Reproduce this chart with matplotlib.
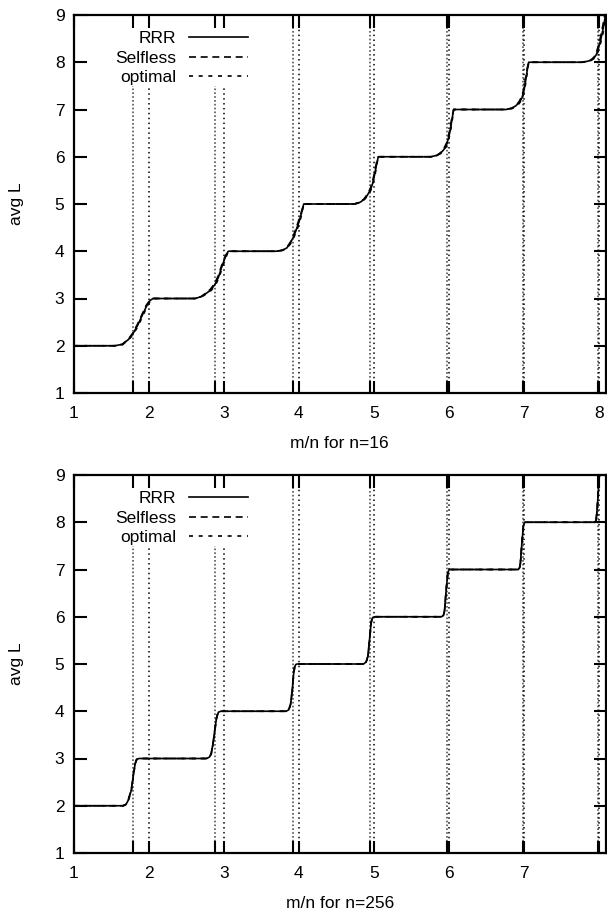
import matplotlib
matplotlib.use("Agg")
import matplotlib.pyplot as plt
from matplotlib.patches import Rectangle
from matplotlib.lines import Line2D

plt.rcParams['font.family'] = ['Liberation Sans', 'DejaVu Sans']

# ---------------- data ----------------
thresholds = [1.792, 2.880, 3.922, 4.952, 5.973, 6.981, 7.979]
integer_lines = [2, 3, 4, 5, 6, 7, 8]
yticks = [1, 2, 3, 4, 5, 6, 7, 8, 9]
xticks_top = [1, 2, 3, 4, 5, 6, 7, 8]
xticks_bottom = [1, 2, 3, 4, 5, 6, 7]
series_names = ["RRR", "Selfless", "optimal"]

# n = 16
x16 = [1.00, 1.55, 1.65, 1.73, 1.79, 1.85, 1.92, 1.97, 2.02, 2.06,
       2.62, 2.70, 2.75, 2.82, 2.88, 2.93, 2.97, 3.02, 3.06,
       3.70, 3.78, 3.84, 3.89, 3.93, 3.96, 4.00, 4.035, 4.065,
       4.74, 4.82, 4.87, 4.91, 4.95, 4.98, 5.01, 5.035, 5.058,
       5.76, 5.84, 5.89, 5.93, 5.97, 6.00, 6.02, 6.04, 6.062,
       6.76, 6.84, 6.89, 6.93, 6.97, 7.00, 7.02, 7.04, 7.06,
       7.77, 7.84, 7.89, 7.93, 7.96, 7.99, 8.02, 8.05, 8.09]
rrr16 = [2.00, 2.00, 2.03, 2.13, 2.25, 2.42, 2.66, 2.83, 2.96, 3.00,
         3.00, 3.04, 3.09, 3.17, 3.29, 3.45, 3.65, 3.87, 4.00,
         4.00, 4.02, 4.07, 4.18, 4.31, 4.43, 4.61, 4.80, 5.00,
         5.00, 5.04, 5.10, 5.18, 5.29, 5.42, 5.63, 5.84, 6.00,
         6.00, 6.03, 6.08, 6.15, 6.27, 6.44, 6.60, 6.80, 7.00,
         7.00, 7.03, 7.08, 7.14, 7.24, 7.42, 7.62, 7.82, 8.00,
         8.00, 8.02, 8.04, 8.09, 8.16, 8.30, 8.48, 8.70, 9.05]
self16 = [2.00, 2.00, 2.03, 2.14, 2.27, 2.45, 2.69, 2.86, 2.97, 3.00,
          3.00, 3.04, 3.10, 3.19, 3.32, 3.49, 3.69, 3.90, 4.00,
          4.00, 4.02, 4.08, 4.20, 4.34, 4.47, 4.66, 4.84, 5.00,
          5.00, 5.04, 5.11, 5.20, 5.32, 5.47, 5.68, 5.88, 6.00,
          6.00, 6.03, 6.09, 6.17, 6.30, 6.49, 6.66, 6.85, 7.00,
          7.00, 7.03, 7.09, 7.16, 7.28, 7.47, 7.68, 7.87, 8.00,
          8.00, 8.02, 8.05, 8.11, 8.20, 8.36, 8.56, 8.80, 9.15]
opt16 = [2.00, 2.00, 2.02, 2.12, 2.23, 2.39, 2.62, 2.80, 2.94, 3.00,
         3.00, 3.03, 3.08, 3.15, 3.26, 3.41, 3.60, 3.83, 4.00,
         4.00, 4.02, 4.06, 4.16, 4.28, 4.39, 4.56, 4.76, 5.00,
         5.00, 5.03, 5.09, 5.16, 5.26, 5.38, 5.58, 5.80, 6.00,
         6.00, 6.03, 6.07, 6.13, 6.24, 6.40, 6.55, 6.75, 7.00,
         7.00, 7.02, 7.07, 7.12, 7.21, 7.37, 7.56, 7.77, 8.00,
         8.00, 8.02, 8.04, 8.08, 8.13, 8.25, 8.42, 8.62, 8.95]

# n = 256
x256 = [1.00, 1.66, 1.70, 1.73, 1.77, 1.80, 1.82, 1.84, 1.87,
        2.77, 2.81, 2.835, 2.865, 2.893, 2.91, 2.93, 2.96,
        3.83, 3.865, 3.89, 3.913, 3.931, 3.945, 3.96, 3.98,
        4.86, 4.895, 4.92, 4.943, 4.963, 4.978, 4.99, 5.01,
        5.90, 5.925, 5.94, 5.96, 5.983, 5.995, 6.005, 6.02,
        6.92, 6.94, 6.95, 6.971, 6.99, 7.00, 7.01, 7.02,
        7.945, 7.955, 7.965, 7.975, 7.985, 7.995, 8.005, 8.09]
rrr256 = [2.00, 2.00, 2.03, 2.12, 2.33, 2.68, 2.88, 2.98, 3.00,
          3.00, 3.03, 3.11, 3.39, 3.74, 3.90, 3.98, 4.00,
          4.00, 4.03, 4.14, 4.45, 4.80, 4.94, 4.99, 5.00,
          5.00, 5.04, 5.16, 5.54, 5.88, 5.97, 5.99, 6.00,
          6.00, 6.03, 6.12, 6.53, 6.92, 6.98, 7.00, 7.00,
          7.00, 7.04, 7.13, 7.59, 7.92, 7.98, 8.00, 8.00,
          8.00, 8.03, 8.15, 8.35, 8.60, 8.85, 9.05, 9.60]
self256 = [2.00, 2.00, 2.03, 2.13, 2.35, 2.70, 2.89, 2.98, 3.00,
           3.00, 3.03, 3.12, 3.41, 3.76, 3.91, 3.98, 4.00,
           4.00, 4.03, 4.15, 4.47, 4.82, 4.95, 4.99, 5.00,
           5.00, 5.04, 5.17, 5.56, 5.89, 5.97, 5.99, 6.00,
           6.00, 6.03, 6.13, 6.55, 6.93, 6.98, 7.00, 7.00,
           7.00, 7.04, 7.14, 7.61, 7.93, 7.98, 8.00, 8.00,
           8.00, 8.03, 8.16, 8.37, 8.62, 8.87, 9.06, 9.60]
opt256 = [2.00, 2.00, 2.02, 2.11, 2.31, 2.66, 2.87, 2.97, 3.00,
          3.00, 3.02, 3.10, 3.37, 3.72, 3.89, 3.97, 4.00,
          4.00, 4.03, 4.13, 4.43, 4.78, 4.93, 4.99, 5.00,
          5.00, 5.04, 5.15, 5.52, 5.87, 5.96, 5.99, 6.00,
          6.00, 6.03, 6.11, 6.51, 6.91, 6.97, 7.00, 7.00,
          7.00, 7.04, 7.12, 7.57, 7.91, 7.97, 8.00, 8.00,
          8.00, 8.03, 8.14, 8.33, 8.58, 8.83, 9.04, 9.60]

# ---------------- styles ----------------
W, H = 607, 911
fig = plt.figure(figsize=(W / 100, H / 100), dpi=100)

left_px, right_px = 73.5, 606.0
unit_px = 75.11
xmax = 1 + (right_px - left_px) / unit_px
FS = 12.5

styles = {
    "RRR": dict(color="black", lw=1.2, linestyle="-"),
    "Selfless": dict(color="black", lw=1.2, linestyle=(0, (4.2, 2.8))),
    "optimal": dict(color="black", lw=1.2, linestyle=(0, (2.4, 3.4))),
}


def make_panel(top_px, xs, ys_list, xticks, xlabel):
    bottom_px = top_px + 378
    ax = fig.add_axes([left_px / W, 1 - bottom_px / H,
                       (right_px - left_px) / W, (bottom_px - top_px) / H])
    ax.set_xlim(1, xmax)
    ax.set_ylim(1, 9)

    for t in thresholds:
        ax.axvline(t, color="#555555", lw=1.2, linestyle=(0, (1, 1.3)), zorder=1)
    for t in integer_lines:
        ax.axvline(t, color="black", lw=1.1, linestyle=(0, (1, 2.2)), zorder=1)

    for name, ys in zip(series_names, ys_list):
        ax.plot(xs, ys, zorder=2, **styles[name])

    ax.set_xticks(xticks)
    ax.set_xticklabels([str(v) for v in xticks])
    ax.set_xticks(thresholds + integer_lines, minor=True)
    ax.set_yticks(yticks)
    ax.set_yticklabels([str(v) for v in yticks])
    ax.tick_params(axis="both", which="both", direction="in", width=1.5,
                   length=9, labelsize=FS, top=True, right=True)
    ax.tick_params(axis="x", which="both", length=9, pad=9)
    ax.tick_params(axis="y", which="major", pad=6.5)
    ax.tick_params(axis="y", which="minor", left=False, right=False)
    for sp in ax.spines.values():
        sp.set_linewidth(1.6)

    ax.set_xlabel(xlabel, fontsize=FS, va="center")
    ax.xaxis.set_label_coords(0.5, -51 / 378)
    ax.set_ylabel("avg L", fontsize=FS, va="center")
    ax.yaxis.set_label_coords((17 - left_px) / (right_px - left_px), 0.5)

    # opaque key box
    span = right_px - left_px
    bx0 = (100 - left_px) / span
    bx1 = (252 - left_px) / span
    by0 = 1 - (86 - 15) / 378
    by1 = 1 - (27 - 15) / 378
    ax.add_patch(Rectangle((bx0, by0), bx1 - bx0, by1 - by0, transform=ax.transAxes,
                           facecolor="white", edgecolor="none", zorder=1.5))
    rows = [36.7, 56.7, 76.0]
    tx = (176 - left_px) / span
    lx0 = (189 - left_px) / span
    lx1 = (248 - left_px) / span
    for name, r in zip(series_names, rows):
        ly = 1 - (r - 15) / 378
        bl = 1 - (r + 6.3 - 15) / 378
        ax.text(tx, bl, name, transform=ax.transAxes, ha="right", va="baseline",
                fontsize=FS, zorder=3)
        ax.add_line(Line2D([lx0, lx1], [ly, ly], transform=ax.transAxes,
                           zorder=3, **styles[name]))
    return ax


make_panel(15, x16, [rrr16, self16, opt16], xticks_top, "m/n for n=16")
make_panel(475, x256, [rrr256, self256, opt256], xticks_bottom, "m/n for n=256")

fig.savefig("out.png", dpi=100)
